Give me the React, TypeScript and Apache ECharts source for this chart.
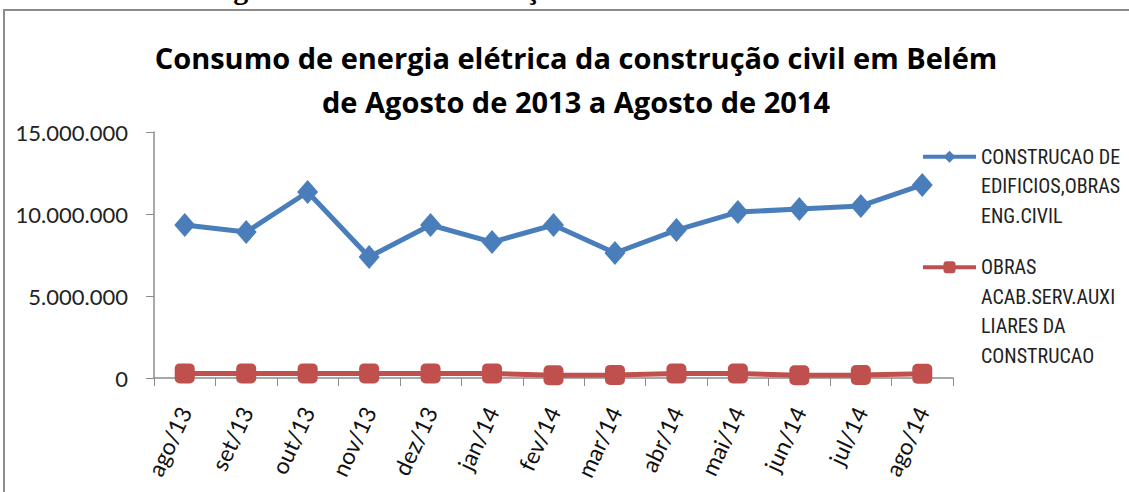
import React, { useEffect, useRef } from "react";
import * as echarts from "echarts";

const categories = ["ago/13", "set/13", "out/13", "nov/13", "dez/13", "jan/14", "fev/14", "mar/14", "abr/14", "mai/14", "jun/14", "jul/14", "ago/14"];
const edificios = [9330000, 8900000, 11340000, 7380000, 9330000, 8290000, 9330000, 7620000, 9020000, 10120000, 10300000, 10490000, 11770000];
const obrasAcab = [280000, 280000, 280000, 280000, 280000, 280000, 170000, 190000, 270000, 270000, 170000, 180000, 260000];
const yTicks = [0, 5000000, 10000000, 15000000];

const S1 = "CONSTRUCAO DE\nEDIFICIOS,OBRAS\nENG.CIVIL";
const S2 = "OBRAS\nACAB.SERV.AUXI\nLIARES DA\nCONSTRUCAO";
const TITLE = "Consumo de energia elétrica da construção civil em Belém\nde Agosto de 2013 a Agosto de 2014";
const CAPTION = "Consumo de energia elétrica da Construção Civil em Belém de 2013 a 2014";

const fmt = (v: number) => String(Math.round(v)).replace(/\B(?=(\d{3})+(?!\d))/g, ".");
// prepend blank lines so the legend icon lines up with the first text line
const legendFmt = (name: string) => {
  const n = name.split("\n").length;
  return " \n".repeat(n - 1) + name;
};

export default function App() {
  const ref = useRef<HTMLDivElement>(null);
  useEffect(() => {
    if (!ref.current) return;
    const chart = echarts.init(ref.current, undefined, { renderer: "svg" });
    const narrow = "'Liberation Sans Narrow', 'Roboto Condensed', Roboto, sans-serif";
    const LH = 29.5;
    const legendCommon = {
      left: 921,
      padding: 0,
      itemWidth: 53,
      itemHeight: 15,
      itemGap: 0,
      selectedMode: false,
      lineStyle: { width: 4 },
      formatter: legendFmt,
      textStyle: { fontFamily: narrow, fontSize: 20, lineHeight: LH, color: "#222" },
    };
    chart.setOption({
      animation: false,
      backgroundColor: "#ffffff",
      title: {
        text: TITLE,
        left: 576,
        top: 35,
        padding: 0,
        textAlign: "center",
        textStyle: { fontFamily: "'Open Sans'", fontWeight: "bold", fontSize: 29, lineHeight: 44, color: "#000" },
      },
      graphic: [
        { type: "rect", shape: { x: 4, y: 10, width: 1400, height: 600 }, style: { fill: "none", stroke: "#8c8c8c", lineWidth: 2 }, silent: true },
        { type: "text", x: 10, y: 3, style: { text: CAPTION, fontFamily: "'Liberation Serif', serif", fontWeight: "bold", fontSize: 30, fill: "#000", verticalAlign: "bottom" }, silent: true },
      ],
      legend: [
        { ...legendCommon, data: [S1], top: 83 },
        { ...legendCommon, data: [S2], top: 164 },
      ],
      grid: { left: 154, right: 176, top: 132, bottom: 114, containLabel: false },
      xAxis: {
        type: "category",
        data: categories,
        boundaryGap: true,
        axisLine: { show: true, lineStyle: { color: "#8c8c8c", width: 1.5 } },
        axisTick: { show: true, inside: false, length: 8, alignWithLabel: false, lineStyle: { color: "#8c8c8c" } },
        axisLabel: { rotate: 65, margin: 30, fontFamily: "Lato", fontSize: 23, color: "#111", interval: 0 },
        splitLine: { show: false },
      },
      yAxis: {
        type: "value",
        min: yTicks[0],
        max: yTicks[yTicks.length - 1],
        interval: yTicks[1] - yTicks[0],
        axisLine: { show: true, lineStyle: { color: "#8c8c8c", width: 1.5 } },
        axisTick: { show: true, inside: false, length: 8, lineStyle: { color: "#8c8c8c" } },
        axisLabel: { margin: 26, fontFamily: "Lato", fontSize: 22, color: "#222", formatter: (v: number) => fmt(v) },
        splitLine: { show: false },
      },
      series: [
        {
          name: S1,
          type: "line",
          data: edificios,
          symbol: "diamond",
          symbolSize: [21, 24],
          lineStyle: { color: "#4a7ebb", width: 5 },
          itemStyle: { color: "#4a7ebb" },
          z: 4,
        },
        {
          name: S2,
          type: "line",
          data: obrasAcab,
          symbol: "roundRect",
          symbolSize: 20,
          lineStyle: { color: "#c0504d", width: 5 },
          itemStyle: { color: "#c0504d" },
          z: 3,
        },
      ],
    });
    return () => chart.dispose();
  }, []);
  return <div ref={ref} style={{ position: "absolute", left: 0, top: 0, width: 1129, height: 492 }} />;
}
